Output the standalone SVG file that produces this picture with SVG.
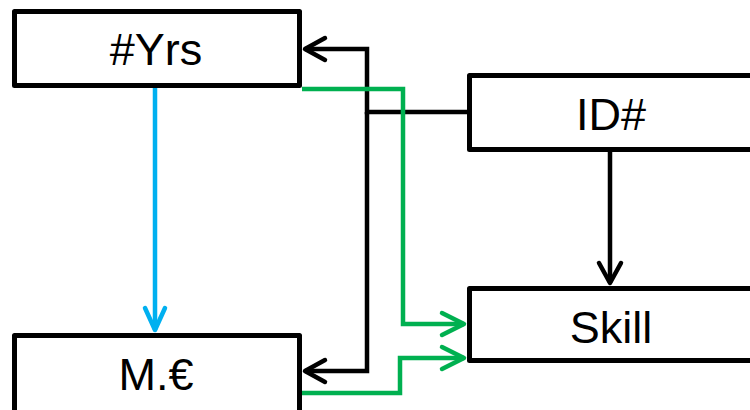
<svg xmlns="http://www.w3.org/2000/svg" width="750" height="410" viewBox="0 0 750 410">
<style>
.box{fill:#fff;stroke:#000;stroke-width:5;stroke-linejoin:round}
.lbl{font-family:"Liberation Sans",Arial,sans-serif;font-size:45px;fill:#000;text-anchor:middle}
.c{fill:none;stroke-width:4.5;stroke-linejoin:miter}
.k{stroke:#000}
.g{stroke:#00B050}
.b{stroke:#00B0F0}
</style>
<defs>
<marker id="ak" markerUnits="userSpaceOnUse" markerWidth="40" markerHeight="40" refX="0" refY="0" viewBox="-20 -20 40 40" orient="auto" overflow="visible">
<path d="M-20,-11 L0,0 L-20,11" fill="none" stroke="#000" stroke-width="4.5" stroke-linecap="round" stroke-linejoin="round"/>
</marker>
<marker id="ag" markerUnits="userSpaceOnUse" markerWidth="40" markerHeight="40" refX="0" refY="0" viewBox="-20 -20 40 40" orient="auto" overflow="visible">
<path d="M-22,-11 L0,0 L-22,11" fill="none" stroke="#00B050" stroke-width="4.5" stroke-linecap="round" stroke-linejoin="round"/>
</marker>
<marker id="ab" markerUnits="userSpaceOnUse" markerWidth="40" markerHeight="40" refX="0" refY="0" viewBox="-20 -20 40 40" orient="auto" overflow="visible">
<path d="M-22,-10 L0,0 L-22,10" fill="none" stroke="#00B0F0" stroke-width="4.5" stroke-linecap="round" stroke-linejoin="round"/>
</marker>
</defs>
<g id="connectors">
<path class="c b" d="M155,88 V330" marker-end="url(#ab)"/>
<path class="c k" d="M467,112 H367 V49 H305" marker-end="url(#ak)"/>
<path class="c k" d="M367,112 V371 H305" marker-end="url(#ak)"/>
<path class="c k" d="M610,152 V283" marker-end="url(#ak)"/>
<path class="c g" d="M302,89 H403 V324 H464" marker-end="url(#ag)"/>
<path class="c g" d="M302,393 H400 V358 H464" marker-end="url(#ag)"/>
</g>
<g id="node-yrs">
<rect class="box" x="14.5" y="11.5" width="285" height="74"/>
<text class="lbl" x="156" y="65">#Yrs</text>
</g>
<g id="node-me">
<rect class="box" x="14.5" y="335.5" width="285" height="78"/>
<text class="lbl" x="156" y="390">M.€</text>
</g>
<g id="node-id">
<rect class="box" x="469.5" y="75.5" width="290" height="74"/>
<text class="lbl" x="611" y="130">ID#</text>
</g>
<g id="node-skill">
<rect class="box" x="469.5" y="288.5" width="290" height="72"/>
<text class="lbl" x="611" y="343">Skill</text>
</g>
</svg>
